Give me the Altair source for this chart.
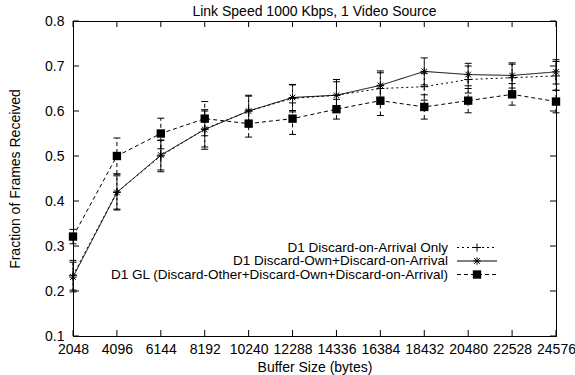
import altair as alt
import pandas as pd

# ---- data ----
buffer_sizes = [2048, 4096, 6144, 8192, 10240, 12288, 14336, 16384, 18432, 20480, 22528, 24576]
arrival_only = [0.235, 0.420, 0.500, 0.560, 0.600, 0.628, 0.635, 0.650, 0.654, 0.670, 0.674, 0.678]
arrival_only_err = [0.033, 0.040, 0.035, 0.040, 0.035, 0.030, 0.030, 0.035, 0.030, 0.030, 0.030, 0.032]
own_arrival = [0.231, 0.419, 0.502, 0.559, 0.600, 0.630, 0.635, 0.657, 0.688, 0.681, 0.679, 0.687]
own_arrival_err = [0.033, 0.037, 0.033, 0.044, 0.033, 0.029, 0.035, 0.032, 0.030, 0.025, 0.028, 0.027]
gl = [0.321, 0.500, 0.550, 0.583, 0.572, 0.583, 0.604, 0.623, 0.609, 0.623, 0.637, 0.621]
gl_err = [0.016, 0.040, 0.034, 0.038, 0.030, 0.035, 0.022, 0.033, 0.027, 0.027, 0.024, 0.025]

series_names = [
    "D1 Discard-on-Arrival Only",
    "D1 Discard-Own+Discard-on-Arrival",
    "D1 GL (Discard-Other+Discard-Own+Discard-on-Arrival)",
]
y_ticks = [0.1, 0.2, 0.3, 0.4, 0.5, 0.6, 0.7, 0.8]

title_text = "Link Speed 1000 Kbps, 1 Video Source"
x_title = "Buffer Size (bytes)"
y_title = "Fraction of Frames Received"

FONT = "Liberation Sans"
W, H = 483, 315

x_scale = alt.Scale(domain=[2048, 24576], nice=False, zero=False)
y_scale = alt.Scale(domain=[0.1, 0.8], nice=False, zero=False)
x_axis = alt.Axis(values=buffer_sizes, format="d", ticks=False, grid=False,
                  labelPadding=6, labelFontSize=14, labelFont=FONT, labelColor="black",
                  title=x_title, titleFontSize=14, titleFont=FONT, titleFontWeight="normal",
                  titleColor="black", titleY=31, titleBaseline="middle",
                  domainColor="black", labelOverlap=False, labelFlush=False)
y_axis = alt.Axis(values=y_ticks, format=".1f", ticks=False, grid=False,
                  labelPadding=9, labelFontSize=14, labelFont=FONT, labelColor="black",
                  title=y_title, titleFontSize=14, titleFont=FONT, titleFontWeight="normal",
                  titleColor="black", titleX=-51, titleY=H / 2, titleAngle=270,
                  titleBaseline="bottom", titleAlign="center",
                  domainColor="black", labelOverlap=False, labelFlush=False)


def X(field="x"):
    return alt.X(f"{field}:Q", scale=x_scale, axis=x_axis)


def Y(field="y"):
    return alt.Y(f"{field}:Q", scale=y_scale, axis=y_axis)


ASTERISK = "M-1,0L1,0M0,-1L0,1M-0.75,-0.75L0.75,0.75M-0.75,0.75L0.75,-0.75"
PLUS = "M-1,0L1,0M0,-1L0,1"

styles = [
    dict(values=arrival_only, err=arrival_only_err, dash=[2, 3], shape=PLUS, size=64, filled=False),
    dict(values=own_arrival, err=own_arrival_err, dash=[1, 0], shape=ASTERISK, size=56, filled=False),
    dict(values=gl, err=gl_err, dash=[4, 3], shape="square", size=70, filled=True),
]

layers = []

# inward tick marks on all four sides
xt = pd.DataFrame({"x": buffer_sizes})
yt = pd.DataFrame({"y": y_ticks})
layers.append(alt.Chart(xt).mark_rule(color="black", strokeWidth=1).encode(
    x=X(), y=alt.value(H), y2=alt.value(H - 6)))
layers.append(alt.Chart(xt).mark_rule(color="black", strokeWidth=1).encode(
    x=X(), y=alt.value(0), y2=alt.value(6)))
layers.append(alt.Chart(yt).mark_rule(color="black", strokeWidth=1).encode(
    y=Y(), x=alt.value(0), x2=alt.value(6)))
layers.append(alt.Chart(yt).mark_rule(color="black", strokeWidth=1).encode(
    y=Y(), x=alt.value(W), x2=alt.value(W - 6)))

legend_y = [226.5, 240, 253.5]

for i, (name, st) in enumerate(zip(series_names, styles)):
    df = pd.DataFrame({
        "x": buffer_sizes,
        "y": st["values"],
        "lo": [v - e for v, e in zip(st["values"], st["err"])],
        "hi": [v + e for v, e in zip(st["values"], st["err"])],
    })
    base = alt.Chart(df)
    layers.append(base.mark_rule(color="black", strokeWidth=1, strokeDash=st["dash"]).encode(
        x=X(), y=Y("lo"), y2="hi:Q"))
    for cap in ["lo", "hi"]:
        layers.append(base.mark_rule(color="black", strokeWidth=1, xOffset=-3.5, x2Offset=3.5).encode(
            x=X(), x2="x:Q", y=Y(cap)))
    layers.append(base.mark_line(color="black", strokeWidth=1, strokeDash=st["dash"]).encode(
        x=X(), y=Y()))
    pt_kwargs = dict(shape=st["shape"], size=st["size"], strokeWidth=1, opacity=1)
    if st["filled"]:
        pt_kwargs.update(filled=True, color="black")
    else:
        pt_kwargs.update(filled=False, stroke="black", color="black")
    layers.append(base.mark_point(**pt_kwargs).encode(x=X(), y=Y()))

    # legend entry (gnuplot style: label, then sample)
    ldf = pd.DataFrame({"label": [name]})
    ly = legend_y[i]
    layers.append(alt.Chart(ldf).mark_text(align="right", baseline="middle", font=FONT,
                                           fontSize=13.5, color="black").encode(
        text="label:N", x=alt.value(375), y=alt.value(ly)))
    layers.append(alt.Chart(ldf).mark_rule(color="black", strokeWidth=1, strokeDash=st["dash"]).encode(
        x=alt.value(384), x2=alt.value(424), y=alt.value(ly)))
    layers.append(alt.Chart(ldf).mark_point(**pt_kwargs).encode(
        x=alt.value(404), y=alt.value(ly)))

chart = alt.layer(*layers).properties(
    width=W, height=H,
    title=alt.TitleParams(title_text, fontSize=14, font=FONT, fontWeight="normal",
                          color="black", anchor="middle", offset=4, frame="group", dy=9),
    autosize=alt.AutoSizeParams(type="none"),
    padding={"left": 73, "top": 21, "right": 19, "bottom": 39},
    background="white",
).configure_view(stroke="black", strokeWidth=1)

chart.save("out.html", embed_options={"renderer": "svg", "actions": False})
